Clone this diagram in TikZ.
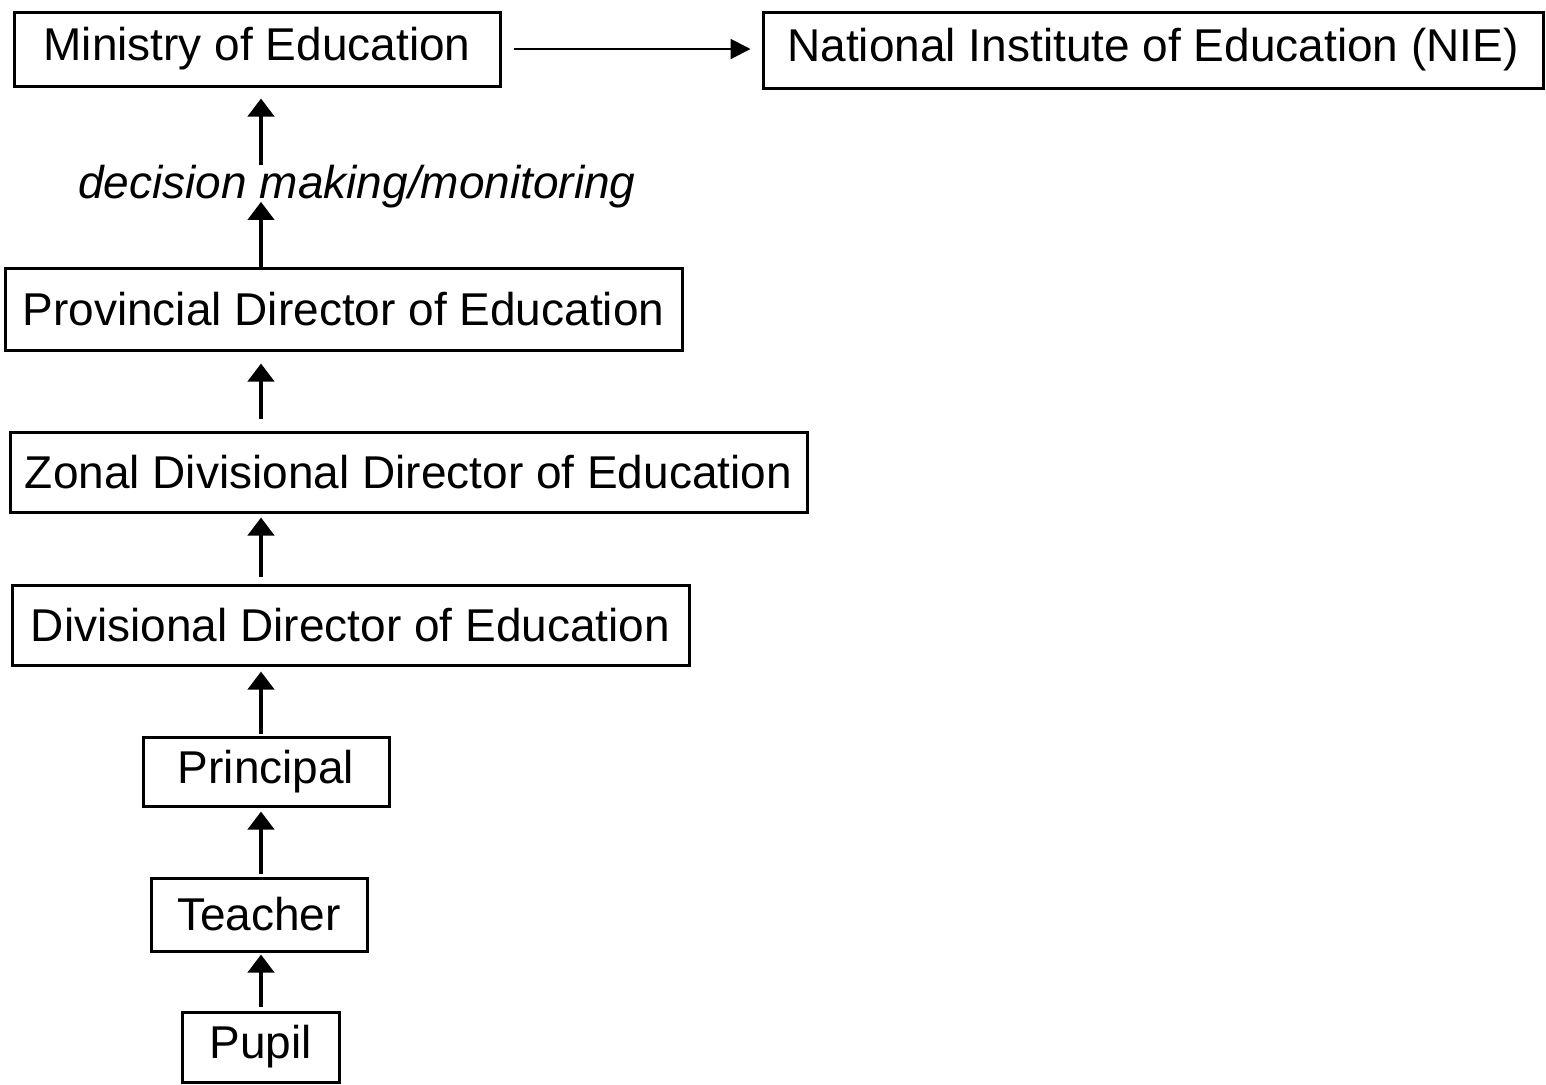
\documentclass[tikz,border=0pt]{standalone}
\usepackage{fontspec}
\setmainfont{Liberation Sans}
\usetikzlibrary{arrows.meta}
\begin{document}
\begin{tikzpicture}[x=0.5pt,y=-0.5pt,
  box/.style={draw,line width=1.5pt,inner sep=0pt,font=\fontsize{23}{27}\selectfont},
  up/.style={-{Triangle[width=13pt,length=9pt]},line width=2pt},
  side/.style={-{Triangle[width=10pt,length=10pt]},line width=1pt}]
\useasboundingbox (0,0) rectangle (1546,1084);
\node[box,minimum width=243pt,minimum height=37pt] (min) at (257,49) {Ministry of Education};
\node[box,minimum width=390pt,minimum height=38pt] (nie) at (1153,50) {National Institute of Education (NIE)};
\node[inner sep=0pt,font=\fontsize{23}{27}\selectfont\itshape] (lab) at (357,187) {decision making/monitoring};
\node[box,minimum width=338.5pt,minimum height=41pt] (prov) at (343.5,309) {Provincial Director of Education};
\node[box,minimum width=398.5pt,minimum height=40pt] (zon) at (408.5,472) {Zonal Divisional Director of Education};
\node[box,minimum width=338.5pt,minimum height=40pt] (div) at (350.5,625) {Divisional Director of Education};
\node[box,minimum width=123pt,minimum height=34.5pt] (prin) at (266,771.5) {Principal};
\node[box,minimum width=108pt,minimum height=36.5pt] (tea) at (259,914.5) {Teacher};
\node[box,minimum width=78.5pt,minimum height=35pt] (pup) at (260.5,1047) {Pupil};
\coordinate (ax) at (261,0);
\draw[side,shorten <=6pt,shorten >=5.5pt] (min.east) -- (nie.west |- min.east);
\draw[up,shorten >=5.5pt] (lab.north -| ax) -- (min.south -| ax);
\draw[up,shorten >=-3.5pt] (prov.north -| ax) -- (lab.south -| ax);
\draw[up,shorten <=6pt,shorten >=6pt] (zon.north -| ax) -- (prov.south -| ax);
\draw[up,shorten <=3.5pt,shorten >=2pt] (div.north -| ax) -- (zon.south -| ax);
\draw[up,shorten <=1pt,shorten >=2.5pt] (prin.north -| ax) -- (div.south -| ax);
\draw[up,shorten <=1.5pt,shorten >=2pt] (tea.north -| ax) -- (prin.south -| ax);
\draw[up,shorten <=2pt,shorten >=1pt] (pup.north -| ax) -- (tea.south -| ax);
\end{tikzpicture}
\end{document}
